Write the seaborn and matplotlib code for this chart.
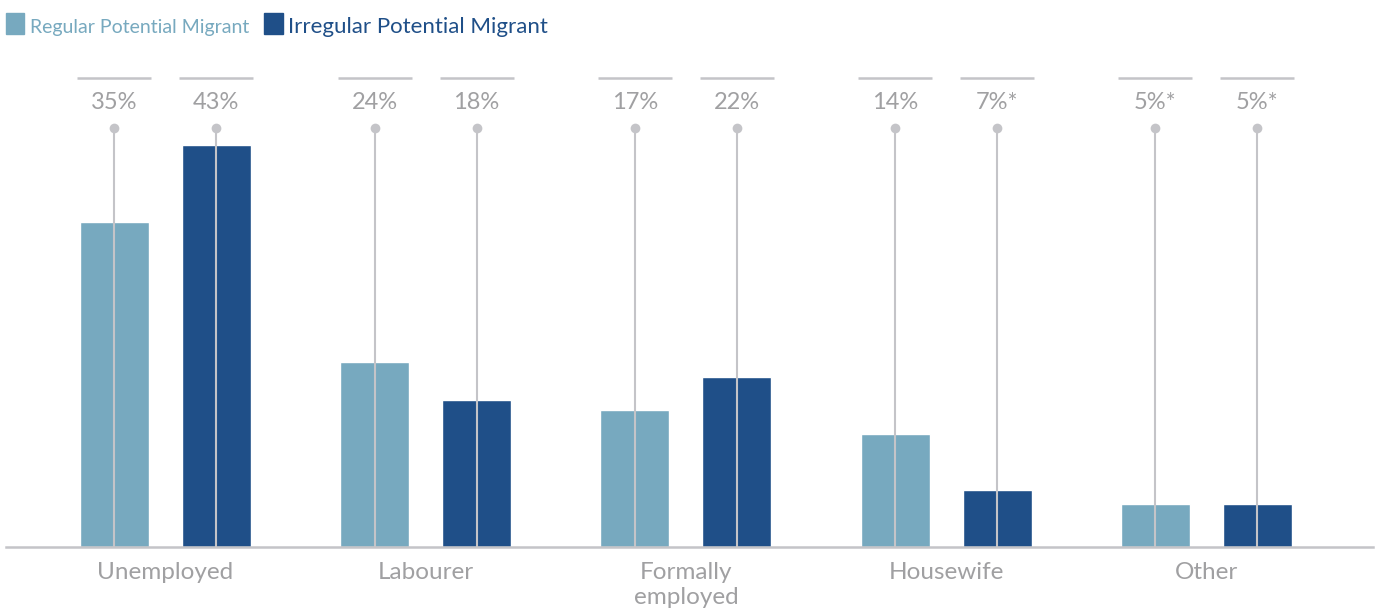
import matplotlib
matplotlib.use("Agg")
import matplotlib.pyplot as plt
import seaborn as sns
import pandas as pd
from matplotlib.patches import Rectangle

# ---------------- data ----------------
categories = ["Unemployed", "Labourer", "Formally\nemployed", "Housewife", "Other"]
series_names = ["Regular Potential Migrant", "Irregular Potential Migrant"]
# bar heights as drawn in the picture (percentage-like units)
regular_heights = [40.1, 22.8, 16.9, 14.0, 5.3]
irregular_heights = [49.6, 18.2, 21.0, 7.0, 5.3]
regular_labels = ["35%", "24%", "17%", "14%", "5%*"]
irregular_labels = ["43%", "18%", "22%", "7%*", "5%*"]

df = pd.DataFrame({
    "category": categories * 2,
    "value": regular_heights + irregular_heights,
    "series": [series_names[0]] * 5 + [series_names[1]] * 5,
})

# ---------------- style ----------------
sns.set_theme(style="white")
plt.rcParams["font.family"] = ["Lato", "DejaVu Sans"]

C_REG = "#77a9bf"
C_IRR = "#1f4f88"
C_GREY_LINE = "#c4c4c8"
C_TEXT = "#a0a0a2"

W, H = 1377, 611
fig = plt.figure(figsize=(W / 100, H / 100), dpi=100)
BASE = 547
PX_PER_UNIT = 8.1
ax = fig.add_axes([6 / W, 1 - BASE / H, (1373 - 6) / W, BASE / H])

sns.barplot(data=df, x="category", y="value", hue="series",
            hue_order=series_names, palette=[C_REG, C_IRR],
            width=0.784, gap=0.324, legend=False, ax=ax,
            saturation=1, zorder=2)

def ypx(p):
    return (BASE - p) / PX_PER_UNIT

ax.set_ylim(0, BASE / PX_PER_UNIT)
ax.set_xlim(-0.612, 4.64)

label_sets = [regular_labels, irregular_labels]
for cont, labels in zip(ax.containers, label_sets):
    for patch, lab in zip(cont.patches, labels):
        cx = patch.get_x() + patch.get_width() / 2
        ax.vlines(cx, 0, ypx(128), color=C_GREY_LINE, lw=1.5, zorder=3)
        ax.plot([cx], [ypx(128)], marker="o", ms=7, color=C_GREY_LINE,
                mec="none", zorder=4, clip_on=False)
        half = 0.142
        ax.hlines(ypx(78), cx - half, cx + half, color=C_GREY_LINE, lw=1.8,
                  zorder=3, clip_on=False)
        ax.text(cx, ypx(103), lab, ha="center", va="center", fontsize=17,
                color=C_TEXT, zorder=4)

# axes styling
for s in ["top", "right", "left"]:
    ax.spines[s].set_visible(False)
ax.spines["bottom"].set_color(C_GREY_LINE)
ax.spines["bottom"].set_linewidth(1.8)
ax.set_yticks([])
ax.set_xlabel("")
ax.set_ylabel("")
ax.tick_params(axis="x", length=0, pad=11, labelsize=17.5, labelcolor=C_TEXT)
for t in ax.get_xticklabels():
    t.set_linespacing(1.2)

# legend (figure-level)
fig.patches.append(Rectangle((6 / W, 1 - 34 / H), 18 / W, 21 / H,
                             transform=fig.transFigure, color=C_REG))
fig.text(30 / W, 1 - 33 / H, series_names[0], fontsize=14, color=C_REG,
         va="baseline", ha="left")
fig.patches.append(Rectangle((264 / W, 1 - 34 / H), 19 / W, 21 / H,
                             transform=fig.transFigure, color=C_IRR))
fig.text(288 / W, 1 - 33 / H, series_names[1], fontsize=16, color=C_IRR,
         va="baseline", ha="left")

fig.savefig("out.png", dpi=100)
